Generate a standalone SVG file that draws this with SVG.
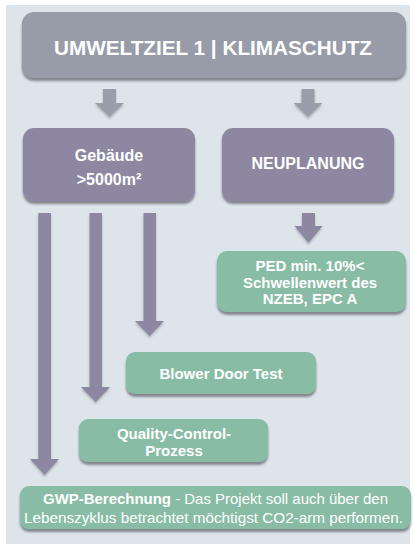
<svg xmlns="http://www.w3.org/2000/svg" width="415" height="544" viewBox="0 0 415 544">
<defs>
<filter id="sh" x="-10%" y="-10%" width="120%" height="130%">
<feDropShadow dx="0" dy="3" stdDeviation="1.2" flood-color="#3a3a44" flood-opacity="0.55"/>
</filter>
<filter id="ash" x="-30%" y="-10%" width="160%" height="130%">
<feDropShadow dx="0" dy="2" stdDeviation="1.2" flood-color="#555" flood-opacity="0.35"/>
</filter>
</defs>
<style>
.bg{fill:#dde4ea}
.grey{fill:#979ca8}
.purple{fill:#8d87a1}
.green{fill:#88bca4}
.garrow{fill:#9a9eaa}
.parrow{fill:#8d87a1}
text{font-family:"Liberation Sans",Arial,sans-serif;fill:#ffffff;text-anchor:middle;dominant-baseline:central}
.b{font-weight:bold}
</style>
<rect x="0" y="0" width="415" height="544" fill="#ffffff"/>
<rect class="bg" x="6" y="5" width="404" height="539"/>

<g id="connectors">
<polygon class="garrow" filter="url(#ash)" points="103,89 116,89 116,103 124,103 109.5,117 95,103 103,103"/>
<polygon class="garrow" filter="url(#ash)" points="301.5,89 314.5,89 314.5,103 322.5,103 308,117 293.5,103 301.5,103"/>
<polygon class="parrow" filter="url(#ash)" points="302,213 315,213 315,226 322.5,226 308.5,243 294.5,226 302,226"/>
<polygon class="parrow" filter="url(#ash)" points="143.5,213 156,213 156,321 164,321 149.7,336 135,321 143.5,321"/>
<polygon class="parrow" filter="url(#ash)" points="89.5,213 102,213 102,387 110,387 95.7,402 81,387 89.5,387"/>
<polygon class="parrow" filter="url(#ash)" points="38.3,213 51,213 51,459 59,459 44.6,475 30,459 38.3,459"/>
</g>

<g id="title">
<rect class="grey" filter="url(#sh)" x="22" y="12" width="384" height="66" rx="12"/>
<text class="b" x="213" y="47" font-size="20.5" textLength="318" lengthAdjust="spacingAndGlyphs">UMWELTZIEL 1 | KLIMASCHUTZ</text>
</g>

<g id="gebaeude">
<rect class="purple" filter="url(#sh)" x="23" y="128" width="172" height="73" rx="11"/>
<text class="b" x="109" y="155" font-size="16">Gebäude</text>
<text class="b" x="109" y="179" font-size="16">&gt;5000m²</text>
</g>

<g id="neuplanung">
<rect class="purple" filter="url(#sh)" x="222" y="128" width="172" height="73" rx="11"/>
<text class="b" x="308" y="163" font-size="16">NEUPLANUNG</text>
</g>

<g id="ped">
<rect class="green" filter="url(#sh)" x="217" y="251" width="189" height="61" rx="10"/>
<text class="b" x="310" y="265" font-size="15">PED min. 10%&lt;</text>
<text class="b" x="310" y="282" font-size="15">Schwellenwert des</text>
<text class="b" x="310" y="298.5" font-size="15">NZEB, EPC A</text>
</g>

<g id="blower">
<rect class="green" filter="url(#sh)" x="126" y="352" width="190" height="42" rx="9"/>
<text class="b" x="221" y="373" font-size="15">Blower Door Test</text>
</g>

<g id="quality">
<rect class="green" filter="url(#sh)" x="79" y="419" width="189" height="43" rx="9"/>
<text class="b" x="174" y="433" font-size="15">Quality-Control-</text>
<text class="b" x="174" y="450.5" font-size="15">Prozess</text>
</g>

<g id="gwp">
<rect class="green" filter="url(#sh)" x="20" y="486" width="391" height="43" rx="9"/>
<text x="215.5" y="498" font-size="15" textLength="345" lengthAdjust="spacingAndGlyphs"><tspan class="b">GWP-Berechnung</tspan> - Das Projekt soll auch über den</text>
<text x="213.5" y="517" font-size="15" textLength="379" lengthAdjust="spacingAndGlyphs">Lebenszyklus betrachtet möchtigst CO2-arm performen.</text>
</g>
</svg>
